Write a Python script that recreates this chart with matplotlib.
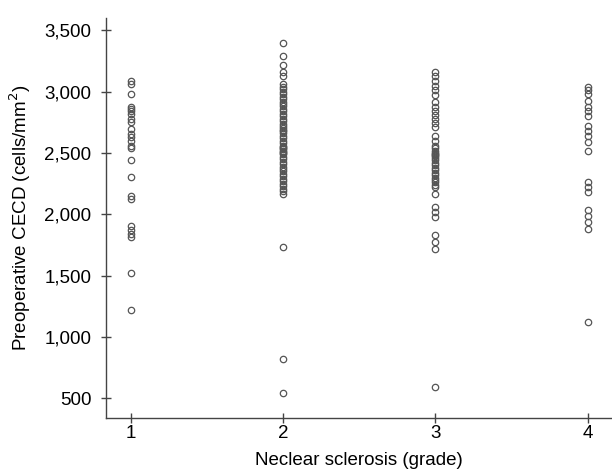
import numpy as np
import matplotlib
matplotlib.use("Agg")
import matplotlib.pyplot as plt
from matplotlib.ticker import FuncFormatter

# preoperative CECD (cells/mm2) by nuclear sclerosis grade
grade1 = [3084, 3063, 2981, 2878, 2859, 2840, 2819, 2778, 2750, 2697, 2656,
          2628, 2602, 2561, 2542, 2447, 2303, 2154, 2128, 1902, 1870, 1843,
          1815, 1526, 1225]
grade2 = [3393, 3293, 3217, 3157, 3130, 3063, 3040, 3020, 3000, 2980, 2960,
          2940, 2920, 2900, 2880, 2860, 2840, 2820, 2800, 2780, 2760, 2740,
          2720, 2700, 2690, 2680, 2660, 2640, 2620, 2600, 2580, 2560, 2550,
          2540, 2530, 2520, 2510, 2500, 2490, 2470, 2450, 2430, 2410, 2390,
          2370, 2350, 2330, 2310, 2290, 2270, 2250, 2230, 2210, 2190, 2170,
          1734, 819, 542]
grade3 = [3160, 3130, 3089, 3049, 3014, 2976, 2913, 2878, 2845, 2811, 2778,
          2742, 2710, 2641, 2602, 2561, 2540, 2520, 2500, 2490, 2480, 2475,
          2460, 2440, 2420, 2400, 2380, 2360, 2340, 2320, 2300, 2280, 2260,
          2240, 2222, 2168, 2060, 2020, 1975, 1835, 1775, 1715, 593]
grade4 = [3040, 3016, 2981, 2927, 2872, 2845, 2805, 2724, 2683, 2642, 2588,
          2520, 2263, 2222, 2181, 2032, 1991, 1937, 1884, 1124]

groups = [grade1, grade2, grade3, grade4]
grades = [1, 2, 3, 4]

plt.rcParams['font.family'] = ['Liberation Sans', 'DejaVu Sans']

fig = plt.figure(figsize=(6.12, 4.75), dpi=100)
ax = fig.add_axes([0.173, 0.12, 0.827, 0.842])

for g, vals in zip(grades, groups):
    ax.plot(np.full(len(vals), g), vals, 'o', ms=4.6, markerfacecolor='none',
            markeredgecolor='#555555', markeredgewidth=0.9)

ax.set_xlim(0.836, 4.16)
ax.set_ylim(341, 3600)
ax.set_xticks(grades)
ax.set_yticks(np.arange(500, 3501, 500))
ax.yaxis.set_major_formatter(FuncFormatter(lambda v, p: f"{int(v):,}"))

for s in ['top', 'right']:
    ax.spines[s].set_visible(False)
for s in ['left', 'bottom']:
    ax.spines[s].set_color('#444444')
    ax.spines[s].set_linewidth(1.0)

ax.tick_params(direction='inout', length=7, width=1.0, color='#444444',
               labelsize=13.5)
ax.tick_params(axis='y', pad=7)
ax.tick_params(axis='x', pad=1.5)

ax.set_xlabel('Neclear sclerosis (grade)', fontsize=13.5, labelpad=7)
ax.set_ylabel('Preoperative CECD (cells/mm$^2$)', fontsize=13.5, labelpad=8)

fig.savefig('out.png', dpi=100)
